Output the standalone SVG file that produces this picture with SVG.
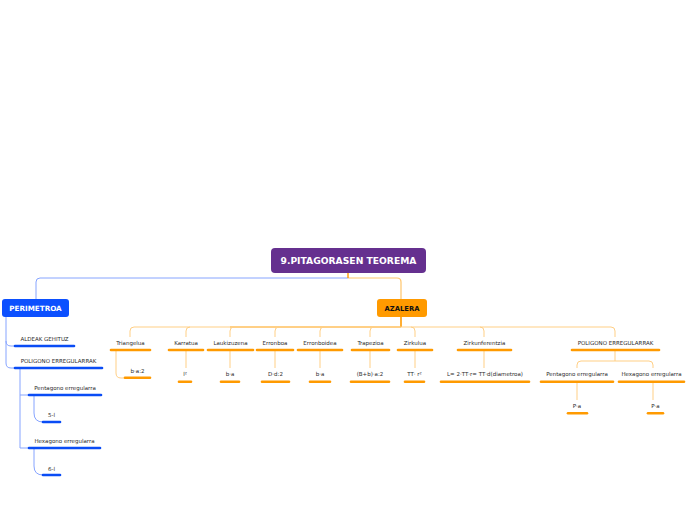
<svg xmlns="http://www.w3.org/2000/svg" width="696" height="520" viewBox="0 0 696 520">
<style>
text{font-family:"DejaVu Sans","Verdana",sans-serif;fill:#2b2b2b;text-anchor:middle}
.s{font-size:5.5px}
.b{font-weight:bold}
.ul{stroke-width:2.6;stroke-linecap:round;fill:none}
.uo{stroke:#ff9a00}
.ub{stroke:#0a4cf5}
.co{stroke:#ffcf85;stroke-width:1;fill:none}
.cb{stroke:#86a4ff;stroke-width:1;fill:none}
</style>
<rect width="696" height="520" fill="#ffffff"/>
<g id="connectors">
  <path class="cb" d="M348,278 H40 Q36,278 36,282 V299"/>
  <path d="M348,278 H397 Q401,278 401,282 V299" stroke="#ffc56b" stroke-width="1.2" fill="none"/>
  <path d="M348,273 V278" stroke="#ff9a00" stroke-width="1.4" fill="none"/>
  <path d="M6,317 V341 Q6,346 11,346 H15 M6,341 V363 Q6,368 11,368 H15" class="cb"/>
  <path d="M20,368 V448 H29 M20,395 H29" class="cb"/>
  <path d="M34,395 V413 Q34,422 43,422 M34,448 V466 Q34,475 43,475" class="cb"/>
  <path d="M401,317 V327" stroke="#ff9a00" stroke-width="1.6" fill="none"/>
  <path d="M134,327 H611" class="co"/>
  <path d="M230,327 H401" stroke="#ffb84a" stroke-width="1" fill="none"/>
  <path class="co" d="M134,327 Q130,327 130,331 V337 M190,327 Q186,327 186,331 V337 M234,327 Q230,327 230,331 V337 M279,327 Q275,327 275,331 V337 M324,327 Q320,327 320,331 V337 M374,327 Q370,327 370,331 V337 M411,327 Q415,327 415,331 V337 M480,327 Q484,327 484,331 V337 M611,327 Q615,327 615,331 V337"/>
  <path class="co" d="M116,351 V373 Q116,378 121,378 H125"/>
  <path class="co" d="M186,351 V368 M230,351 V368 M275,351 V368 M320,351 V368 M370,351 V368 M415,351 V368 M484,351 V368"/>
  <path class="co" d="M615,351 V361 M577,368 V365 Q577,361 581,361 H649 Q653,361 653,365 V368"/>
  <path class="co" d="M577,382 V400 M653,382 V400"/>
</g>
<g id="root">
  <rect x="271" y="248" width="155" height="25" rx="4" fill="#65308f"/>
  <text x="348.5" y="264.2" class="b" style="font-size:9.2px;fill:#fff">9.PITAGORASEN TEOREMA</text>
</g>
<g id="perimetroa">
  <rect x="2" y="299" width="67" height="18" rx="3" fill="#0c50ff"/>
  <text x="35.5" y="310.6" class="b" style="font-size:7.2px;fill:#fff">PERIMETROA</text>
</g>
<g id="azalera">
  <rect x="377" y="299" width="50" height="18" rx="3" fill="#ff9a00"/>
  <text x="402" y="310.6" class="b" style="font-size:6.8px;fill:#111">AZALERA</text>
</g>
<g id="aldeak"><text x="44.5" y="341" class="s">ALDEAK GEHITUZ</text><path class="ul ub" d="M15,346 H74"/></g>
<g id="poligono-p"><text x="58.5" y="362.7" class="s">POLIGONO ERREGULARRAK</text><path class="ul ub" d="M15,368 H102"/></g>
<g id="pentagono-p"><text x="65" y="389.7" class="s">Pentagono erregularra</text><path class="ul ub" d="M29,395 H101"/></g>
<g id="hexagono-p"><text x="64.5" y="443" class="s">Hexagono erregularra</text><path class="ul ub" d="M29,448 H100"/></g>
<g id="p5l"><text x="51.5" y="417.3" class="s">5-l</text><path class="ul ub" d="M43,422 H60"/></g>
<g id="p6l"><text x="51.5" y="470.7" class="s">6-l</text><path class="ul ub" d="M43,475 H60"/></g>
<g id="triangelua"><text x="130.5" y="345.3" class="s">Triangelua</text><path class="ul uo" d="M111,350 H150"/></g>
<g id="karratua"><text x="186" y="345.3" class="s">Karratua</text><path class="ul uo" d="M169,350 H203"/></g>
<g id="laukizuzena"><text x="230.5" y="345.3" class="s">Laukizuzena</text><path class="ul uo" d="M208,350 H253"/></g>
<g id="erronboa"><text x="275" y="345.3" class="s">Erronboa</text><path class="ul uo" d="M257,350 H293"/></g>
<g id="erronboidea"><text x="320" y="345.3" class="s">Erronboidea</text><path class="ul uo" d="M298,350 H342"/></g>
<g id="trapezioa"><text x="370.5" y="345.3" class="s">Trapezioa</text><path class="ul uo" d="M352,350 H389"/></g>
<g id="zirkulua"><text x="415" y="345.3" class="s">Zirkulua</text><path class="ul uo" d="M398,350 H432"/></g>
<g id="zirkunferentzia"><text x="484.5" y="345.3" class="s">Zirkunferentzia</text><path class="ul uo" d="M458,350 H511"/></g>
<g id="poligono-a"><text x="615.5" y="345.3" class="s">POLIGONO ERREGULARRAK</text><path class="ul uo" d="M572,350 H659"/></g>
<g id="tri-f"><text x="137.5" y="373" class="s">b·a:2</text><path class="ul uo" d="M125,377.7 H150"/></g>
<g id="kar-f"><text x="185" y="376" class="s">l²</text><path class="ul uo" d="M179,381.7 H191"/></g>
<g id="lau-f"><text x="230" y="376" class="s">b·a</text><path class="ul uo" d="M221,381.7 H239"/></g>
<g id="err-f"><text x="275.5" y="376" class="s">D·d:2</text><path class="ul uo" d="M262,381.7 H289"/></g>
<g id="erri-f"><text x="320" y="376" class="s">b·a</text><path class="ul uo" d="M310,381.7 H330"/></g>
<g id="tra-f"><text x="370" y="376" class="s">(B+b)·a:2</text><path class="ul uo" d="M351,381.7 H389"/></g>
<g id="zir-f"><text x="414.5" y="376" class="s">TT· r²</text><path class="ul uo" d="M405,381.7 H424"/></g>
<g id="zirk-f"><text x="485" y="376" class="s">L= 2·TT·r= TT·d(diametroa)</text><path class="ul uo" d="M441,381.7 H529"/></g>
<g id="pentagono-a"><text x="577" y="376" class="s">Pentagono erregularra</text><path class="ul uo" d="M541,381.7 H613"/></g>
<g id="hexagono-a"><text x="651.5" y="376" class="s">Hexagono erregularra</text><path class="ul uo" d="M619,381.7 H684"/></g>
<g id="pent-f"><text x="577" y="408" class="s">P·a</text><path class="ul uo" d="M568,413.3 H587"/></g>
<g id="hex-f"><text x="655.5" y="408" class="s">P·a</text><path class="ul uo" d="M648,413.3 H663"/></g>
</svg>
